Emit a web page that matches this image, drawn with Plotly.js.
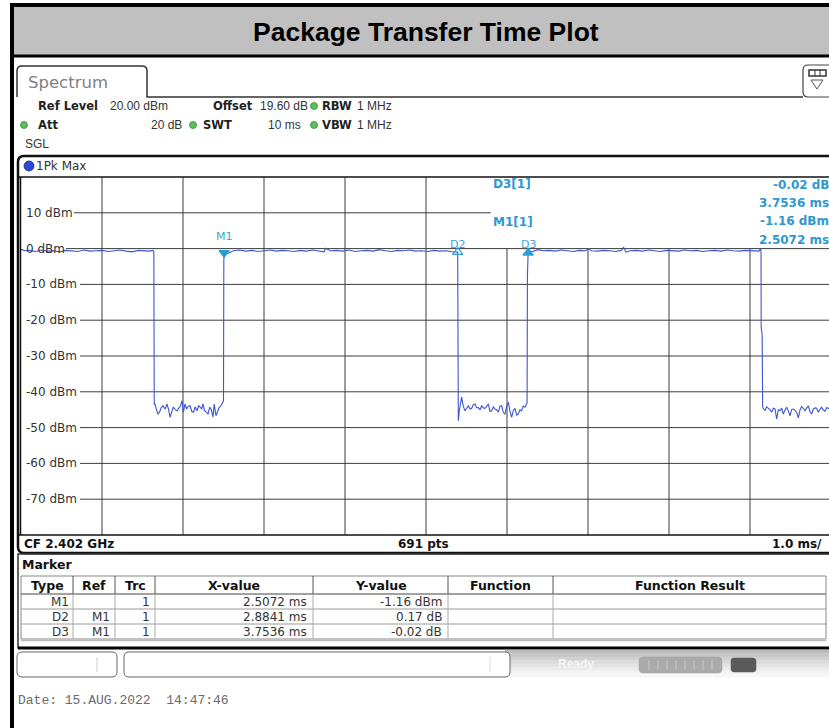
<!DOCTYPE html>
<html><head><meta charset="utf-8">
<script src="https://cdn.plot.ly/plotly-3.0.1.min.js"></script>
<style>html,body{margin:0;padding:0;background:#fff;overflow:hidden}#chart{width:829px;height:728px}</style>
</head><body><div id="chart"></div>
<script>
// ---------------- data ----------------
// trace 1 (1Pk Max), time in ms, level in dBm
const timeMs = [
  0.00,0.05,0.10,0.18,0.25,0.33,0.40,0.48,0.55,0.62,0.70,0.78,0.85,0.93,1.00,1.08,1.15,1.22,1.30,1.37,1.45,1.52,1.58,1.63,
  1.640,1.645,
  1.654,1.672,1.691,1.710,1.730,1.753,1.780,1.802,1.820,1.840,1.860,1.880,1.905,1.926,1.950,1.970,1.988,2.005,2.025,2.045,2.065,2.086,2.110,2.130,2.150,2.173,2.195,2.215,2.230,2.247,2.265,2.285,2.309,2.330,2.350,2.370,2.385,2.407,2.425,2.445,2.469,2.485,2.494,
  2.500,2.504,2.5072,
  2.52,2.56,2.62,2.70,2.78,2.85,2.93,3.00,3.08,3.15,3.22,3.30,3.37,3.45,3.52,3.60,3.67,3.74,3.76,3.82,3.90,3.97,4.05,4.12,4.20,4.27,4.35,4.42,4.50,4.57,4.65,4.72,4.80,4.87,4.95,5.02,5.10,5.17,5.25,5.32,5.3913,
  5.399,5.410,5.420,5.440,5.460,5.481,5.502,5.523,5.544,5.564,5.585,5.605,5.626,5.646,5.667,5.687,5.708,5.728,5.750,5.770,5.790,5.811,5.832,5.852,5.873,5.893,5.914,5.934,5.955,5.975,5.996,6.016,6.037,6.058,6.078,6.099,6.120,6.140,6.160,6.181,6.200,6.222,6.240,
  6.248,6.252,6.256,6.2608,
  6.29,6.33,6.38,6.45,6.52,6.60,6.67,6.74,6.82,6.89,6.97,7.01,7.04,7.12,7.19,7.27,7.34,7.41,7.44,7.47,7.52,7.60,7.67,7.75,7.82,7.89,7.97,8.04,8.12,8.19,8.27,8.34,8.42,8.49,8.57,8.64,8.72,8.79,8.87,8.94,9.01,9.07,9.11,9.125,
  9.133,9.136,9.138,9.150,9.152,
  9.156,9.170,9.185,9.205,9.226,9.247,9.267,9.288,9.309,9.329,9.350,9.370,9.390,9.411,9.432,9.453,9.474,9.494,9.515,9.535,9.556,9.576,9.597,9.618,9.638,9.659,9.679,9.700,9.720,9.741,9.761,9.782,9.802,9.823,9.843,9.864,9.885,9.905,9.926,9.950,9.975,10.0
];
const levelDbm = [
  -0.2,-0.6,-0.5,-0.8,-0.4,-0.7,-0.6,-0.9,-0.5,-0.6,-0.8,-0.4,-0.7,-0.6,-0.5,-0.8,-0.6,-0.4,-0.7,-0.9,-0.5,-0.6,-0.7,-0.5,
  -0.8,-43.6,
  -43.4,-45.0,-46.2,-45.7,-44.5,-43.9,-44.8,-43.4,-44.8,-47.1,-45.7,-44.3,-45.0,-45.3,-44.5,-43.9,-42.5,-45.7,-43.4,-44.8,-44.0,-43.9,-45.5,-45.7,-44.2,-45.3,-43.9,-44.6,-44.8,-43.4,-45.2,-45.7,-46.2,-44.3,-45.0,-47.1,-43.4,-46.7,-45.7,-44.5,-43.9,-42.9,-42.8,
  -42.5,-3.8,-1.16,
  -1.3,-1.3,-0.6,-0.4,-0.7,-0.5,-0.8,-0.6,-0.4,-0.7,-0.5,-0.6,-0.8,-0.5,-0.7,-0.4,-0.6,-0.9,0.1,-0.6,-0.5,-0.7,-0.4,-0.8,-0.6,-0.5,-0.7,-0.3,-0.6,-0.8,-0.5,-0.6,-0.4,-0.7,-0.6,-0.8,-0.5,-0.7,-0.6,-0.9,-0.99,
  -48.1,-45.5,-44.3,-41.5,-44.0,-45.3,-44.6,-43.9,-44.8,-44.6,-43.6,-43.4,-44.5,-44.4,-45.0,-43.9,-44.5,-44.6,-44.0,-43.4,-45.5,-45.3,-44.2,-44.8,-45.0,-45.7,-44.0,-43.9,-45.8,-46.2,-44.0,-42.9,-45.5,-47.1,-45.2,-44.6,-46.5,-46.2,-45.0,-45.3,-44.0,-44.3,-43.5,
  -43.0,-8.0,-2.6,-1.18,
  -1.0,-0.6,-0.3,-0.6,-0.5,-0.7,-0.4,-0.6,-0.8,-0.5,-0.6,0.0,-0.6,-0.7,-0.5,-0.6,-0.8,-0.5,0.3,-1.0,-0.6,-0.5,-0.7,-0.4,-0.6,-0.8,-0.5,-0.6,-0.7,-0.4,-0.6,-0.5,-0.8,-0.6,-0.5,-0.7,-0.4,-0.6,-0.7,-0.5,-0.6,-0.8,-0.7,-0.2,
  -0.3,-1.0,-22.0,-24.0,-43.9,
  -44.3,-44.8,-45.3,-44.2,-44.5,-45.0,-45.7,-44.6,-44.8,-47.6,-45.0,-45.3,-44.5,-46.2,-45.1,-44.3,-45.4,-46.7,-44.9,-44.8,-45.2,-45.7,-47.3,-45.0,-44.1,-44.8,-45.3,-44.5,-43.9,-45.6,-46.2,-44.8,-44.5,-44.6,-45.7,-44.9,-44.3,-45.1,-45.4,-44.4,-44.8,-45.0
];

// marker table
const markerType  = ['M1', 'D2', 'D3'];
const markerRef   = ['', 'M1', 'M1'];
const markerTrc   = [1, 1, 1];
const markerX     = [2.5072, 2.8841, 3.7536];   // ms (delta markers relative to M1)
const markerY     = [-1.16, 0.17, -0.02];
const markerYUnit = ['dBm', 'dB', 'dB'];
const markerSymbol = ['triangle-down', 'triangle-up-open', 'triangle-up'];
const tableHeaders = ['Type', 'Ref', 'Trc', 'X-value', 'Y-value', 'Function', 'Function Result'];

// axes
const levelTicks = [10, 0, -10, -20, -30, -40, -50, -60, -70];
const levelTickLabels = ['10 dBm', '0 dBm', '-10 dBm', '-20 dBm', '-30 dBm', '-40 dBm', '-50 dBm', '-60 dBm', '-70 dBm'];
const timeGridMs = [1, 2, 3, 4, 5, 6, 7, 8, 9];
const refLevel = 20, bottomLevel = -80, sweepMs = 10;

// instrument settings text
const chartTitle = 'Package Transfer Time Plot';
const dateText = 'Date: 15.AUG.2022  14:47:46';

// ---------------- layout helpers ----------------
const W = 829, H = 728;
const X = v => v / W, Y = v => 1 - v / H;
const FV = 'DejaVu Sans, Verdana, sans-serif';
const FA = 'Liberation Sans, Arial, sans-serif';
const FM = 'Liberation Mono, Courier New, monospace';
const CYAN = '#2f98cf';

const shapes = [];
const ann = [];
function rectP(x0, y0, x1, y1, o) { shapes.push(Object.assign({type:'rect', xref:'paper', yref:'paper', x0:X(x0), x1:X(x1), y0:Y(y1), y1:Y(y0), layer:'above', line:{width:0}}, o)); }
function lineP(x0, y0, x1, y1, color, width) { shapes.push({type:'line', xref:'paper', yref:'paper', x0:X(x0), y0:Y(y0), x1:X(x1), y1:Y(y1), line:{color:color, width:width}, layer:'above'}); }
function pathP(d, o) { shapes.push(Object.assign({type:'path', xref:'paper', yref:'paper', path:d, layer:'above'}, o)); }
const P = (x, y) => X(x) + ',' + Y(y);
function rr(x0, y0, x1, y1, r) {
  return 'M' + P(x0 + r, y0) + ' L' + P(x1 - r, y0) + ' Q' + P(x1, y0) + ' ' + P(x1, y0 + r) +
    ' L' + P(x1, y1 - r) + ' Q' + P(x1, y1) + ' ' + P(x1 - r, y1) + ' L' + P(x0 + r, y1) +
    ' Q' + P(x0, y1) + ' ' + P(x0, y1 - r) + ' L' + P(x0, y0 + r) + ' Q' + P(x0, y0) + ' ' + P(x0 + r, y0) + ' Z';
}
function dot(x, y, r, color, lc) { shapes.push({type:'circle', xref:'paper', yref:'paper', x0:X(x - r), x1:X(x + r), y0:Y(y + r), y1:Y(y - r), fillcolor:color, line:{color:lc || color, width:0.8}, layer:'above'}); }
function T(x, y, text, o) {
  const a = {xref:'paper', yref:'paper', x:X(x), y:Y(y), text:text, showarrow:false, xanchor:'left', yanchor:'middle', borderpad:0,
    font:{family:FV, size:12, color:'#222'}};
  if (o) { for (const k in o) { if (k === 'font') Object.assign(a.font, o.font); else a[k] = o[k]; } }
  ann.push(a);
}

// ---------------- frame & title ----------------
rectP(12, 5, 840, 56, {fillcolor:'#c0c0c0', line:{color:'#000', width:3}});
rectP(12, 5, 840, 745, {fillcolor:'rgba(0,0,0,0)', line:{color:'#000', width:4}});
T(426, 32, '<b>' + chartTitle + '</b>', {xanchor:'center', font:{family:FA, size:26.5, color:'#000'}});

// Spectrum tab + top icon
pathP('M' + P(17, 97) + ' L' + P(17, 71) + ' Q' + P(17, 66) + ' ' + P(22, 66) + ' L' + P(142, 66) + ' Q' + P(147, 66) + ' ' + P(147, 71) + ' L' + P(147, 97) + ' L' + P(803, 97),
  {line:{color:'#333', width:1.5}});
pathP(rr(803, 65, 845, 97, 5), {line:{color:'#444', width:1.2}, fillcolor:'#fff'});
rectP(809, 70, 826, 76, {fillcolor:'#fff', line:{color:'#333', width:1.5}});
lineP(815, 70, 815, 76, '#333', 1); lineP(820, 70, 820, 76, '#333', 1);
pathP('M' + P(811, 80) + ' L' + P(823, 80) + ' L' + P(817, 89) + ' Z', {line:{color:'#555', width:1}, fillcolor:'rgba(0,0,0,0)'});
T(27, 82, 'Spectrum', {font:{family:FV, size:16.5, color:'#808080'}});

// settings rows
const LED = '#5cc05c';
const VAL = {family:FA, size:12, color:'#333'};
const LAB = {family:FV, size:11.5, color:'#222'};
T(37, 106, '<b>Ref Level</b>', {font:LAB});
T(109, 106, '20.00 dBm', {font:VAL});
T(212, 106, '<b>Offset</b>', {font:LAB});
T(259, 106, '19.60 dB', {font:VAL});
dot(314, 106, 3.5, LED, '#3a8a3a');
T(321, 106, '<b>RBW</b>', {font:LAB});
T(356, 106, '1 MHz', {font:VAL});
dot(24, 125, 3.5, LED, '#3a8a3a');
T(37, 125, '<b>Att</b>', {font:LAB});
T(183, 125, '20 dB', {xanchor:'right', font:VAL});
dot(193, 125, 3.5, LED, '#3a8a3a');
T(202, 125, '<b>SWT</b>', {font:LAB});
T(302, 125, '10 ms', {xanchor:'right', font:VAL});
dot(314, 125, 3.5, LED, '#3a8a3a');
T(321, 125, '<b>VBW</b>', {font:LAB});
T(356, 125, '1 MHz', {font:VAL});
T(24, 144, 'SGL', {font:VAL});

// diagram frame
pathP(rr(18, 156, 850, 553, 6), {line:{color:'#111', width:2.5}, fillcolor:'rgba(0,0,0,0)'});
lineP(18, 177, 829, 177, '#111', 1.5);
lineP(20.5, 177, 20.5, 535, '#111', 1.5);
lineP(18, 535, 829, 535, '#111', 1.5);
dot(29, 166, 5, '#2a48d0', '#1a2a90');
T(35, 166, '1Pk Max', {font:{size:12, color:'#333'}});
T(23, 544, '<b>CF 2.402 GHz</b>', {font:{size:12, color:'#111'}});
T(423, 544, '<b>691 pts</b>', {xanchor:'center', font:{size:12, color:'#111'}});
T(823, 544, '<b>1.0 ms/</b>', {xanchor:'right', font:{size:12, color:'#111'}});

// y tick labels inside the plot
levelTicks.forEach((v, i) => {
  ann.push({xref:'paper', yref:'y', x:X(25), y:v, text:levelTickLabels[i], showarrow:false, xanchor:'left', yanchor:'middle', borderpad:0,
    font:{family:FV, size:12, color:'#333'}});
});
// grid lines (through the axes)
const labelEndPx = {10:74, 0:66};
levelTicks.forEach(v => {
  const startPx = labelEndPx[v] !== undefined ? labelEndPx[v] : 80;
  const endX = v === 10 ? 5.80 : sweepMs;
  shapes.push({type:'line', xref:'x', yref:'y', x0:(startPx - 21) / 81, x1:endX, y0:v, y1:v, line:{color:'#3c3c3c', width:1}, layer:'below'});
});
timeGridMs.forEach(t => {
  shapes.push({type:'line', xref:'x', yref:'y', x0:t, x1:t, y0:bottomLevel, y1:(t >= 6 ? 0 : refLevel), line:{color:'#3c3c3c', width:1}, layer:'below'});
});

// marker readout
T(492, 184, '<b>D3[1]</b>', {font:{color:CYAN}});
T(492, 222, '<b>M1[1]</b>', {font:{color:CYAN}});
T(831, 185, '<b>' + markerY[2].toFixed(2) + ' ' + markerYUnit[2] + '</b>', {xanchor:'right', font:{color:CYAN}});
T(830, 203, '<b>' + markerX[2].toFixed(4) + ' ms</b>', {xanchor:'right', font:{color:CYAN}});
T(830, 221, '<b>' + markerY[0].toFixed(2) + ' ' + markerYUnit[0] + '</b>', {xanchor:'right', font:{color:CYAN}});
T(830, 240, '<b>' + markerX[0].toFixed(4) + ' ms</b>', {xanchor:'right', font:{color:CYAN}});

// marker absolute positions from the table
const mAbsX = markerX.map((v, i) => markerRef[i] ? markerX[0] + v : v);
const mAbsY = markerY.map((v, i) => markerRef[i] ? markerY[0] + v : v);
markerType.forEach((m, i) => {
  ann.push({xref:'x', yref:'y', x:mAbsX[i], y:mAbsY[i], yshift:(i === 0 ? 16 : 8), text:m, showarrow:false, xanchor:'center', yanchor:'middle',
    font:{family:FV, size:11, color:'#3ba6d8'}});
});

// ---------------- marker table ----------------
rectP(18, 554, 850, 648, {fillcolor:'rgba(0,0,0,0)', line:{color:'#333', width:1.5}});
lineP(18, 648, 829, 648, '#000', 3);
T(21, 564, '<b>Marker</b>', {font:{size:12.5, color:'#111'}});
const cols = [21, 73, 115, 155, 313, 448, 553, 826];
const rowTop = [576, 594, 609, 624, 639];
rectP(21, 576, 826, 639, {fillcolor:'#fff', line:{color:'#888', width:1}});
for (let r = 1; r < rowTop.length - 1; r++) lineP(21, rowTop[r], 826, rowTop[r], '#9a9a9a', 1);
lineP(21, 594, 826, 594, '#777', 1);
for (let c = 1; c < cols.length - 1; c++) {
  lineP(cols[c], 576, cols[c], 594, '#555', 1);
  lineP(cols[c], 594, cols[c], 639, '#aaa', 1);
}
lineP(21, 640.5, 826, 640.5, '#bbb', 1.5);
tableHeaders.forEach((h, c) => T((cols[c] + cols[c + 1]) / 2, 585, '<b>' + h + '</b>', {xanchor:'center', font:{size:12.5, color:'#111'}}));
markerType.forEach((m, r) => {
  const yc = (rowTop[r + 1] + rowTop[r + 2]) / 2 + 0.5;
  T(70, yc, m, {xanchor:'right', font:{size:12, color:'#333'}});
  T(111, yc, markerRef[r], {xanchor:'right', font:{size:12, color:'#333'}});
  T(151, yc, String(markerTrc[r]), {xanchor:'right', font:{size:12, color:'#333'}});
  T(308, yc, markerX[r].toFixed(4) + ' ms', {xanchor:'right', font:{size:12, color:'#333'}});
  T(443, yc, markerY[r].toFixed(2) + ' ' + markerYUnit[r], {xanchor:'right', font:{size:12, color:'#333'}});
});

// ---------------- bottom toolbar ----------------
const bands = ['#bcbcbc', '#c6c6c6', '#d0d0d0', '#dadada', '#e3e3e3', '#ebebeb', '#f2f2f2', '#f7f7f7'];
bands.forEach((c, i) => rectP(505, 650 + i * 3.4, 829, 650 + (i + 1) * 3.4 + 0.3, {fillcolor:c}));
pathP(rr(17, 652, 117, 677, 5), {line:{color:'#666', width:1}, fillcolor:'#fff'});
lineP(97, 657, 97, 672, '#ccc', 1);
pathP(rr(124, 652, 510, 677, 5), {line:{color:'#666', width:1}, fillcolor:'#fff'});
lineP(490, 657, 490, 672, '#ddd', 1);
T(557, 664, '<b>Ready</b>', {font:{family:FA, size:12, color:'#f4f4f4'}});
pathP(rr(639, 657, 722, 673, 4), {line:{color:'#a0a0a0', width:0.5}, fillcolor:'#aaaaaa'});
[649, 658, 667, 676, 685, 694, 703, 712].forEach(x => lineP(x, 660, x, 670, '#c8c8c8', 1));
pathP(rr(731, 658, 756, 672, 3), {line:{color:'#555', width:0.5}, fillcolor:'#5a5a5a'});
T(17, 700, dateText, {font:{family:FM, size:13, color:'#6a6a6a'}});

// ---------------- traces ----------------
const traces = [
  {type:'scatter', mode:'lines', x:timeMs, y:levelDbm, line:{color:'#3c56cf', width:1.1}, hoverinfo:'skip', showlegend:false},
  {type:'scatter', mode:'markers', x:mAbsX, y:mAbsY, marker:{symbol:markerSymbol, size:9, color:'#2a9fd6', line:{color:'#2a9fd6', width:1.2}}, hoverinfo:'skip', showlegend:false}
];

const layout = {
  width:W, height:H, margin:{l:0, r:0, t:0, b:0},
  paper_bgcolor:'#ffffff', plot_bgcolor:'rgba(0,0,0,0)', showlegend:false,
  xaxis:{domain:[X(21), 1], range:[0, (829 - 21) / 81], showgrid:false, zeroline:false, showticklabels:false, ticks:'', showline:false, fixedrange:true},
  yaxis:{domain:[Y(535), Y(177)], range:[bottomLevel, refLevel], showgrid:false, zeroline:false, showticklabels:false, ticks:'', showline:false, fixedrange:true},
  shapes:shapes, annotations:ann
};
Plotly.newPlot('chart', traces, layout, {staticPlot:true, displayModeBar:false});
</script>
</body></html>
